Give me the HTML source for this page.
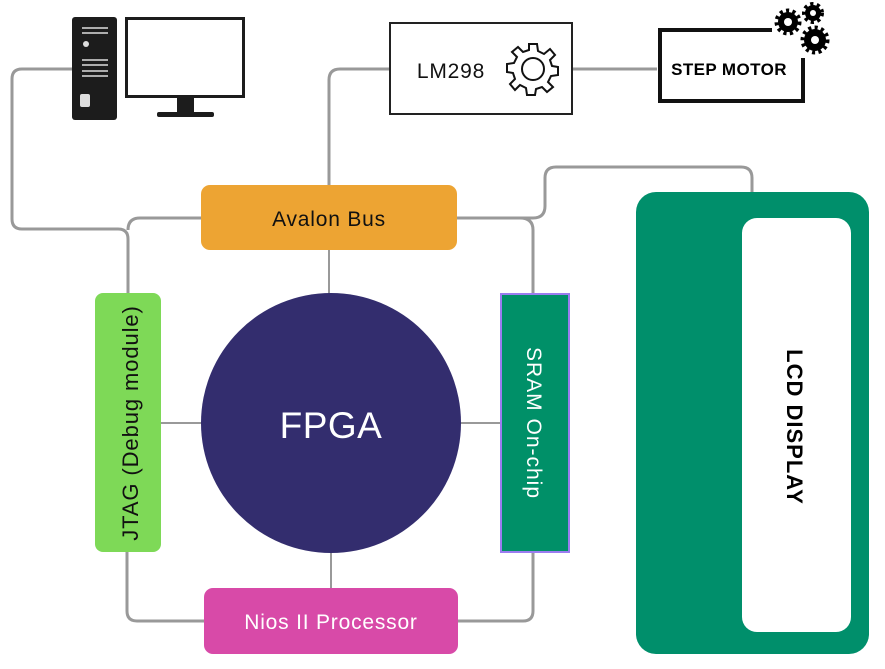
<!DOCTYPE html>
<html><head><meta charset="utf-8"><style>
html,body{margin:0;padding:0;background:#fff;}
svg{display:block;}
text{font-family:"Liberation Sans",sans-serif;}
</style></head><body>
<svg width="885" height="669" viewBox="0 0 885 669" xmlns="http://www.w3.org/2000/svg">
<g fill="none" stroke="#999" stroke-width="3">
<path d="M72 69 H22 Q12 69 12 79 V219 Q12 229 22 229 H118 Q128 229 128 239 V294"/>
<path d="M201 218 H140 Q128 218 128 230"/>
<path d="M390 69 H340 Q329 69 329 80 V186"/>
<path d="M573 69 H657"/>
<path d="M457 218 H533 Q545 218 545 206 V178 Q545 167 556 167 H741 Q752 167 752 178 V193"/>
<path d="M520 218 Q533 218 533 230 V294"/>
<path d="M127 552 V611 Q127 621 137 621 H205"/>
<path d="M533 552 V611 Q533 621 523 621 H458"/>
</g>
<g stroke="#999" stroke-width="2">
<line x1="329" y1="250" x2="329" y2="294"/>
<line x1="331" y1="552" x2="331" y2="589"/>
<line x1="161" y1="423" x2="202" y2="423"/>
<line x1="460" y1="423" x2="501" y2="423"/>
</g>
<!-- PC -->
<rect x="72" y="17" width="45" height="103" rx="3" fill="#1c1c1c"/>
<g stroke="#ddd" stroke-width="1.5">
<line x1="82" y1="28" x2="108" y2="28"/><line x1="82" y1="33" x2="108" y2="33"/>
<line x1="82" y1="60" x2="108" y2="60"/><line x1="82" y1="65" x2="108" y2="65"/><line x1="82" y1="71" x2="108" y2="71"/><line x1="82" y1="76" x2="108" y2="76"/>
</g>
<circle cx="86" cy="44" r="3" fill="#ddd"/>
<rect x="80" y="94" width="10" height="13" rx="2" fill="#ddd"/>
<rect x="126.5" y="18.5" width="117" height="78" fill="#fff" stroke="#1c1c1c" stroke-width="3"/>
<rect x="177" y="97" width="17" height="16" fill="#1c1c1c"/>
<rect x="157" y="112" width="57" height="5" rx="2" fill="#1c1c1c"/>
<!-- LM298 -->
<rect x="390" y="23" width="182" height="91" fill="#fff" stroke="#222" stroke-width="2"/>
<text x="451" y="78" font-size="21" letter-spacing="0.8" text-anchor="middle" fill="#111">LM298</text>
<g transform="translate(533,69)" fill="none" stroke="#111" stroke-width="2">
<path d="M-4 -25 L4 -25 L5 -18 L11 -15 L17 -20 L22 -14 L17 -9 L19 -3 L25 -2 L25 6 L18 7 L15 13 L20 18 L14 23 L9 18 L3 20 L2 26 L-6 26 L-7 19 L-13 16 L-18 21 L-23 15 L-18 10 L-20 4 L-26 3 L-26 -5 L-19 -6 L-16 -12 L-21 -17 L-15 -22 L-10 -17 L-4 -19 Z"/>
<circle cx="0" cy="0" r="11"/>
</g>
<!-- Step motor -->
<path d="M772 30 H660 V101 H803 V58" fill="none" stroke="#111" stroke-width="4"/>
<text x="729" y="75" font-size="17" letter-spacing="0.4" font-weight="bold" text-anchor="middle" fill="#000">STEP MOTOR</text>
<g fill="#000">
<circle cx="788" cy="22" r="10"/><circle cx="813" cy="13" r="8"/><circle cx="815" cy="40" r="11"/>
<g stroke="#000" stroke-width="5" stroke-dasharray="3 3.2"><circle cx="788" cy="22" r="11" fill="none"/><circle cx="813" cy="13" r="8.5" fill="none"/><circle cx="815" cy="40" r="12" fill="none"/></g>
<circle cx="788" cy="22" r="4" fill="#fff"/><circle cx="813" cy="13" r="3" fill="#fff"/><circle cx="815" cy="40" r="4" fill="#fff"/>
</g>
<!-- Avalon -->
<rect x="201" y="185" width="256" height="65" rx="9" fill="#EDA433"/>
<text x="329" y="226" font-size="21" letter-spacing="0.8" text-anchor="middle" fill="#111">Avalon Bus</text>
<!-- LCD -->
<rect x="636" y="192" width="233" height="462" rx="20" fill="#008F6B"/>
<rect x="742" y="218" width="109" height="414" rx="15" fill="#fff"/>
<text transform="translate(787,427) rotate(90)" font-size="22" letter-spacing="1" font-weight="bold" text-anchor="middle" fill="#000">LCD DISPLAY</text>
<!-- JTAG -->
<rect x="95" y="293" width="66" height="259" rx="8" fill="#7ED957"/>
<text transform="translate(138,423) rotate(-90)" font-size="22" letter-spacing="0.9" text-anchor="middle" fill="#111">JTAG (Debug module)</text>
<!-- FPGA -->
<circle cx="331" cy="423" r="130" fill="#332D6E"/>
<text x="331" y="438" font-size="37" letter-spacing="0.5" text-anchor="middle" fill="#fff">FPGA</text>
<!-- SRAM -->
<rect x="501" y="294" width="68" height="258" fill="#009068" stroke="#9B7CF0" stroke-width="2"/>
<text transform="translate(527,423) rotate(90)" font-size="21" letter-spacing="1" text-anchor="middle" fill="#fff">SRAM On-chip</text>
<!-- Nios -->
<rect x="204" y="588" width="254" height="66" rx="9" fill="#D84AA8"/>
<text x="331" y="629" font-size="21" letter-spacing="0.8" text-anchor="middle" fill="#fff">Nios II Processor</text>
</svg>
</body></html>
